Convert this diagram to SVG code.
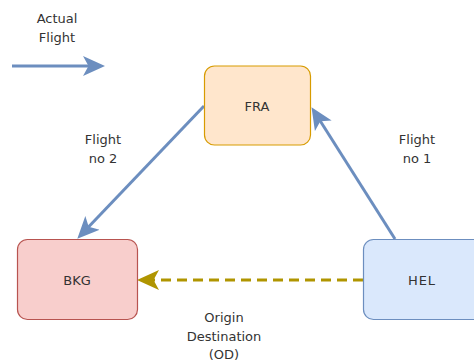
<svg xmlns="http://www.w3.org/2000/svg" width="474" height="361" viewBox="0 0 474 361">
<style>
text{font-family:"DejaVu Sans","Liberation Sans",sans-serif;font-size:13px;fill:#333;text-anchor:middle}
.box{stroke-width:1.2}
.flight{fill:none;stroke:#6c8ebf;stroke-width:3}
.od{fill:none;stroke:#b09500;stroke-width:3;stroke-dasharray:10 6}
</style>
<defs>
<marker id="ab" markerUnits="userSpaceOnUse" markerWidth="22" markerHeight="22" viewBox="0 0 20 20" refX="10" refY="10" orient="auto">
<path d="M0,1 L20,10 L0,19 L5,10 Z" fill="#6c8ebf"/>
</marker>
<marker id="ag" markerUnits="userSpaceOnUse" markerWidth="22" markerHeight="22" viewBox="0 0 20 20" refX="10" refY="10" orient="auto">
<path d="M0,1 L20,10 L0,19 L5,10 Z" fill="#b09500"/>
</marker>
</defs>
<g id="connectors">
<line id="legend-arrow" class="flight" x1="12" y1="66" x2="94" y2="66" marker-end="url(#ab)"/>
<line id="flight2" class="flight" x1="204" y1="106" x2="84.9" y2="230.8" marker-end="url(#ab)"/>
<line id="flight1" class="flight" x1="395" y1="239" x2="317.4" y2="116.5" marker-end="url(#ab)"/>
<line id="od" class="od" x1="363" y1="280" x2="148" y2="280" marker-end="url(#ag)"/>
</g>
<g id="FRA">
<rect class="box" x="204.5" y="66" width="106" height="79" rx="10" fill="#ffe6cc" stroke="#d79b00"/>
<text x="257" y="111">FRA</text>
</g>
<g id="BKG">
<rect class="box" x="17.5" y="239.5" width="120" height="80" rx="10" fill="#f8cecc" stroke="#b85450"/>
<text x="77" y="285">BKG</text>
</g>
<g id="HEL">
<rect class="box" x="363.5" y="239.5" width="120" height="80" rx="10" fill="#dae8fc" stroke="#6c8ebf"/>
<text x="422" y="285" letter-spacing="1">HEL</text>
</g>
<g id="labels">
<text x="57" y="23">Actual</text>
<text x="57" y="42">Flight</text>
<text x="103" y="144">Flight</text>
<text x="103" y="163">no 2</text>
<text x="417" y="144">Flight</text>
<text x="417" y="163">no 1</text>
<text x="224" y="322">Origin</text>
<text x="224" y="341">Destination</text>
<text x="224" y="359">(OD)</text>
</g>
</svg>
